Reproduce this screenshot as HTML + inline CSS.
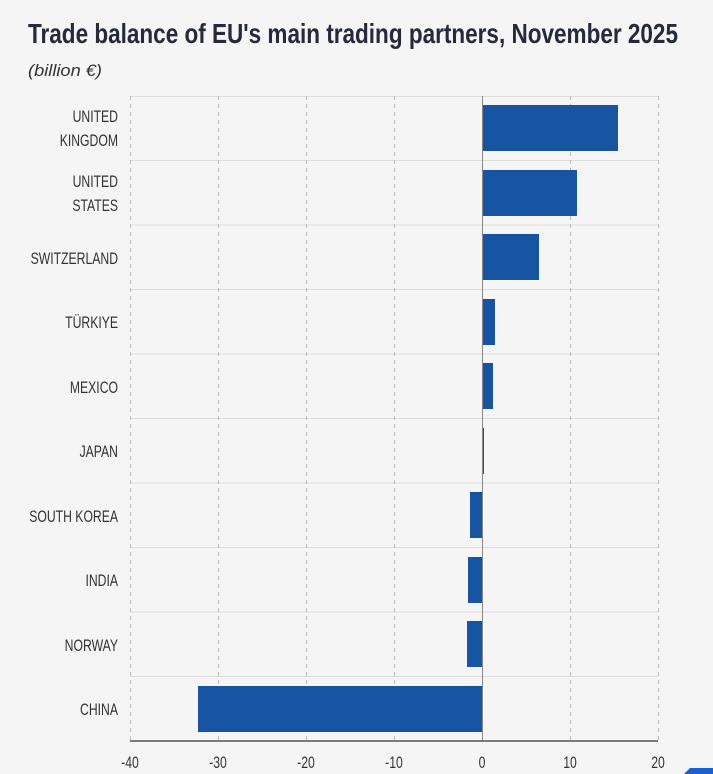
<!DOCTYPE html><html><head><meta charset="utf-8"><style>body{margin:0;background:#f5f5f5}svg{display:block}</style></head><body>
<svg width="713" height="774" xmlns="http://www.w3.org/2000/svg" font-family="Liberation Sans Narrow, Liberation Sans, sans-serif">
<rect width="713" height="774" fill="#f5f5f5"/>
<text x="28" y="43" font-size="28" font-weight="bold" fill="#262a3a" textLength="650" lengthAdjust="spacingAndGlyphs">Trade balance of EU's main trading partners, November 2025</text>
<text x="28" y="76" font-size="17" font-style="italic" fill="#333" textLength="74" lengthAdjust="spacingAndGlyphs">(billion €)</text>
<g stroke="#ddd" stroke-width="1">
<line x1="130" y1="96.5" x2="658" y2="96.5"/>
<line x1="130" y1="160.5" x2="658" y2="160.5"/><line x1="130" y1="225" x2="658" y2="225"/><line x1="130" y1="289.5" x2="658" y2="289.5"/><line x1="130" y1="354" x2="658" y2="354"/><line x1="130" y1="418.5" x2="658" y2="418.5"/><line x1="130" y1="483" x2="658" y2="483"/><line x1="130" y1="547.5" x2="658" y2="547.5"/><line x1="130" y1="612" x2="658" y2="612"/><line x1="130" y1="676.5" x2="658" y2="676.5"/>
</g>
<g stroke="#bbb" stroke-width="1" stroke-dasharray="4,4">
<line x1="130.5" y1="96" x2="130.5" y2="741"/><line x1="218.5" y1="96" x2="218.5" y2="741"/><line x1="306.5" y1="96" x2="306.5" y2="741"/><line x1="394.5" y1="96" x2="394.5" y2="741"/><line x1="570.5" y1="96" x2="570.5" y2="741"/><line x1="658.5" y1="96" x2="658.5" y2="741"/>
</g>
<g fill="#1755a3">
<rect x="482" y="105" width="136" height="46"/>
<rect x="482" y="170" width="95" height="46"/>
<rect x="482" y="234" width="57" height="46"/>
<rect x="482" y="299" width="13" height="46"/>
<rect x="482" y="363" width="11" height="46"/>
<rect x="482" y="428" width="2" height="46"/>
<rect x="470" y="492" width="12" height="46"/>
<rect x="468" y="557" width="14" height="46"/>
<rect x="467" y="621" width="15" height="46"/>
<rect x="198" y="686" width="284" height="46"/>
</g>
<line x1="482.5" y1="96" x2="482.5" y2="741" stroke="#888" stroke-width="1"/>
<line x1="130" y1="741" x2="658" y2="741" stroke="#555" stroke-width="1.5"/>
<g font-size="16.5" fill="#333" text-anchor="end" transform="translate(118,0) scale(0.74,1) translate(-118,0)">
<text x="118" y="122">UNITED</text><text x="118" y="146">KINGDOM</text>
<text x="118" y="187">UNITED</text><text x="118" y="211">STATES</text>
<text x="118" y="264">SWITZERLAND</text>
<text x="118" y="328">TÜRKIYE</text>
<text x="118" y="393">MEXICO</text>
<text x="118" y="457">JAPAN</text>
<text x="118" y="522">SOUTH KOREA</text>
<text x="118" y="586">INDIA</text>
<text x="118" y="651">NORWAY</text>
<text x="118" y="715">CHINA</text>
</g>
<g font-size="16.5" fill="#333" text-anchor="middle">
<text x="0" y="768" transform="translate(130,0) scale(0.74,1)">-40</text>
<text x="0" y="768" transform="translate(218,0) scale(0.74,1)">-30</text>
<text x="0" y="768" transform="translate(306,0) scale(0.74,1)">-20</text>
<text x="0" y="768" transform="translate(394,0) scale(0.74,1)">-10</text>
<text x="0" y="768" transform="translate(482,0) scale(0.74,1)">0</text>
<text x="0" y="768" transform="translate(570,0) scale(0.74,1)">10</text>
<text x="0" y="768" transform="translate(658,0) scale(0.74,1)">20</text>
</g>
<polygon points="684,774 690,768 713,768 713,774" fill="#1a5fd0"/>
</svg>
</body></html>
